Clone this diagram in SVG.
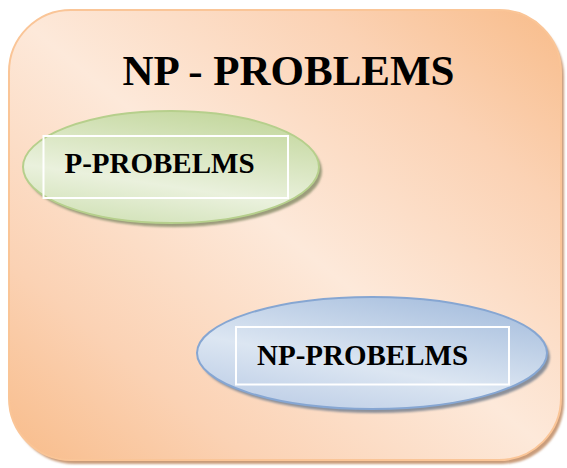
<svg xmlns="http://www.w3.org/2000/svg" width="567" height="468" viewBox="0 0 567 468">
  <defs>
    <linearGradient id="gOuter" x1="1" y1="0" x2="0" y2="1">
      <stop offset="0" stop-color="#F8BC8A"/>
      <stop offset="0.22" stop-color="#FBD2B4"/>
      <stop offset="0.5" stop-color="#FDE9DA"/>
      <stop offset="0.78" stop-color="#FBD2B4"/>
      <stop offset="1" stop-color="#F8BC8A"/>
    </linearGradient>
    <linearGradient id="gGreen" x1="0.7" y1="0" x2="0.3" y2="1">
      <stop offset="0" stop-color="#C3D79D"/>
      <stop offset="0.65" stop-color="#EAF1DD"/>
      <stop offset="1" stop-color="#D2E2B8"/>
    </linearGradient>
    <linearGradient id="gBlue" x1="0.8" y1="0" x2="0.2" y2="1">
      <stop offset="0" stop-color="#A5BDDD"/>
      <stop offset="0.6" stop-color="#DCE6F2"/>
      <stop offset="1" stop-color="#BCCDE6"/>
    </linearGradient>
    <filter id="blur" x="-10%" y="-10%" width="120%" height="120%">
      <feGaussianBlur stdDeviation="1.2"/>
    </filter>
  </defs>
  <style>
    .lbl { font-family: "Liberation Serif", "Times New Roman", serif; font-weight: bold; fill: #000; }
    .inner { fill: none; stroke: #FFFFFF; stroke-width: 2; }
  </style>

  <g id="np-problems-set">
    <rect x="12" y="14" width="552" height="450" rx="62" ry="62" fill="#C99C7A" filter="url(#blur)"/>
    <rect x="9" y="10" width="552" height="450" rx="62" ry="62" fill="url(#gOuter)" stroke="#FAC597" stroke-width="2"/>
    <text class="lbl" x="288.5" y="85" font-size="43" text-anchor="middle">NP - PROBLEMS</text>
  </g>

  <g id="p-problems">
    <ellipse cx="174" cy="171" rx="148" ry="56" fill="#9C9C7C" filter="url(#blur)"/>
    <ellipse cx="171" cy="167" rx="148" ry="56" fill="url(#gGreen)" stroke="#B6CF8C" stroke-width="2"/>
    <rect class="inner" x="43.5" y="136" width="244.5" height="62"/>
    <text class="lbl" x="159.5" y="173" font-size="29" text-anchor="middle">P-PROBELMS</text>
  </g>

  <g id="np-problems-inner">
    <ellipse cx="375" cy="357" rx="175" ry="56" fill="#8C9099" filter="url(#blur)"/>
    <ellipse cx="372" cy="353" rx="175" ry="56" fill="url(#gBlue)" stroke="#86A6D2" stroke-width="2"/>
    <rect class="inner" x="236" y="327" width="273" height="57.5"/>
    <text class="lbl" x="362.5" y="365" font-size="29" text-anchor="middle">NP-PROBELMS</text>
  </g>

  <g id="connectors"></g>
</svg>
